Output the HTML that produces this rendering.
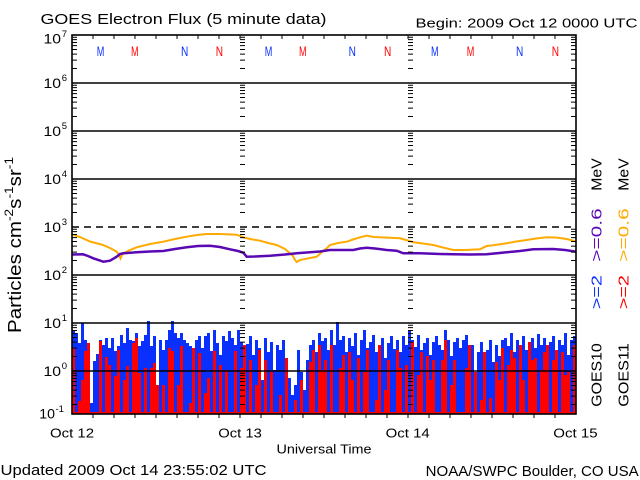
<!DOCTYPE html>
<html><head><meta charset="utf-8"><style>
html,body{margin:0;padding:0;background:#fff;width:640px;height:480px;overflow:hidden}
svg{display:block}
text{font-family:"Liberation Sans",sans-serif}
</style></head><body>
<svg width="640" height="480" viewBox="0 0 640 480" xmlns="http://www.w3.org/2000/svg">
<defs>
<path id="dec" d="M0,2.2h5M0,4.65h5M0,7.44h5M0,10.65h5M0,14.45h5M0,19.1h5M0,25.1h5M0,33.55h5" stroke="#000" stroke-width="1" fill="none"/>
<g id="col">
<use href="#dec" y="35"/><use href="#dec" y="83"/><use href="#dec" y="131"/><use href="#dec" y="179"/>
<use href="#dec" y="227"/><use href="#dec" y="275"/><use href="#dec" y="323"/><use href="#dec" y="371"/>
</g>
<clipPath id="pc"><rect x="72" y="35" width="504" height="379"/></clipPath>
</defs>
<rect width="640" height="480" fill="#fff"/>

<g clip-path="url(#pc)">
<path fill="#0a30ff" d="M72,414V330h3V333h3V343h3V323h3V340h3V414h3V403h3V361h3V354h3V340h3V345h3V338h3V348h3V338h3V351h3V346h3V335h3V343h3V328h3V340h3V341h3V333h3V346h3V341h3V335h3V321h3V346h3V336h3V385h3V340h3V350h3V340h3V330h3V321h3V333h3V338h3V333h3V340h3V343h3V346h3V378h3V340h3V336h3V348h3V336h3V333h3V351h3V330h3V343h3V355h3V336h3V341h3V331h3V338h3V345h3V330h3V342h3V350h3V344h3V336h3V355h3V340h3V348h3V380h3V338h3V352h3V342h3V370h3V345h3V350h3V340h3V360h3V378h3V395h3V385h3V350h3V372h3V390h3V360h3V345h3V340h3V352h3V333h3V341h3V338h3V350h3V330h3V345h3V322h3V340h3V336h3V352h3V338h3V346h3V333h3V355h3V340h3V330h3V348h3V342h3V335h3V352h3V345h3V338h3V358h3V343h3V336h3V349h3V340h3V352h3V336h3V345h3V330h3V340h3V347h3V335h3V350h3V343h3V338h3V355h3V342h3V336h3V345h3V350h3V330h3V340h3V356h3V342h3V338h3V348h3V340h3V335h3V360h3V345h3V400h3V352h3V342h3V398h3V350h3V340h3V362h3V345h3V356h3V340h3V338h3V346h3V333h3V352h3V340h3V345h3V336h3V350h3V342h3V338h3V348h3V334h3V345h3V338h3V350h3V342h3V336h3V352h3V340h3V345h3V333h3V355h3V340h3V336h3V414Z"/>
<path fill="#ff0000" d="M72,414V348h3V412h3V401h3V380h3V351h3V343h3V412h3V412h3V412h3V341h3V412h3V357h3
V365h3V412h3V376h3V350h3V412h3V380h3V366h3V412h3V343h3V338h3V373h3V412h3
V368h3V412h3V368h3V363h3V385h3V412h3V385h3V412h3V348h3V351h3V412h3V385h3
V346h3V412h3V412h3V403h3V348h3V412h3V353h3V412h3V393h3V378h3V412h3V351h3
V412h3V365h3V412h3V370h3V412h3V412h3V351h3V412h3V368h3V345h3V412h3V360h3
V412h3V385h3V350h3V412h3V360h3V412h3V372h3V412h3V412h3V395h3V412h3V358h3
V412h3V412h3V400h3V412h3V380h3V412h3V412h3V362h3V350h3V412h3V345h3V370h3
V360h3V412h3V345h3V412h3V412h3V368h3V355h3V412h3V352h3V380h3V412h3V358h3
V412h3V372h3V350h3V412h3V412h3V400h3V345h3V412h3V390h3V360h3V412h3V412h3
V350h3V368h3V412h3V365h3V412h3V342h3V412h3V375h3V352h3V412h3V356h3V380h3
V360h3V412h3V412h3V360h3V340h3V412h3V385h3V360h3V412h3V412h3V412h3V368h3
V345h3V412h3V372h3V412h3V400h3V352h3V412h3V398h3V412h3V362h3V380h3V348h3
V412h3V365h3V350h3V358h3V412h3V345h3V380h3V412h3V342h3V360h3V358h3V412h3
V370h3V352h3V345h3V412h3V360h3V350h3V412h3V352h3V375h3V372h3V412h3V345h3V414Z"/>

<polyline fill="none" stroke="#ffaa00" stroke-width="2" points="72,234.5 80,237 90,241.5 103,245 110,248 116.7,251.7 119,255 120.5,258.5 122,255 124,253 130,250 136.7,247.3 150,244 163.3,241.7 175,239 186.7,236.7 197,235 206.7,234 220,234 236.7,234.7 243.3,237.3 250,239 260,240.7 268,243 276.7,245 285,249 290,253.3 293,256 295,260 296.7,262 300,260 303.3,259.3 310,258 316.7,256.7 322,252 327,248 330,245 338,243 346.7,241.7 353,239.5 360,237.3 366.7,235.7 373.3,237 385,237.5 400,238.3 406,240 413.3,242.3 423,243.5 433.3,245 443,247.5 453.3,250 465,250 480,249.3 486.7,246 495,245 506.7,243.3 516,241.5 526.7,240 536,238.5 546.7,237.3 556,237.5 566.7,239 576,241.5"/>
<polyline fill="none" stroke="#5a08b4" stroke-width="2.5" points="72,254.5 83,254.3 88,256 93.3,258.3 100,260.5 103.3,261.7 110,260.7 116.7,256.7 120,254 123.3,253.3 136.7,252.3 150,251.5 163.3,251 175,249 186.7,247.3 198,246 210,245.7 220,247 230,249.3 238,251 243.3,252.7 246.7,256.7 255,256.5 270,255.7 285,254.5 296.7,253.3 310,252.3 320,251.5 330,250 345,250 353.3,250 360,248.5 366.7,247.7 375,248.5 386.7,250 396.7,250.7 403.3,253.3 420,253.3 440,254 453.3,254.3 470,254.5 486.7,254.3 506.7,252.3 520,251 533.3,249.3 553.3,249 565,250 576,251.7"/>
</g>

<!-- grid lines -->
<path d="M72,83H576M72,131H576M72,179H576M72,275H576M72,323H576M72,371H576" stroke="#000" stroke-width="1.6" fill="none"/>
<path d="M72,227H576" stroke="#000" stroke-width="1.6" stroke-dasharray="7 5" fill="none"/>

<!-- y ticks -->
<use href="#col" x="72"/>
<use href="#col" x="571"/>
<use href="#col" x="240"/>
<use href="#col" x="408"/>

<!-- x ticks -->
<path stroke="#000" stroke-width="1" fill="none" d="M93,35v4M114,35v4M135,35v4M156,35v4M177,35v4M198,35v4M219,35v4M240,35v4M261,35v4M282,35v4M303,35v4M324,35v4M345,35v4M366,35v4M387,35v4M408,35v4M429,35v4M450,35v4M471,35v4M492,35v4M513,35v4M534,35v4M555,35v4M93,414v4M114,414v4M135,414v4M156,414v4M177,414v4M198,414v4M219,414v4M240,414v4M261,414v4M282,414v4M303,414v4M324,414v4M345,414v4M366,414v4M387,414v4M408,414v4M429,414v4M450,414v4M471,414v4M492,414v4M513,414v4M534,414v4M555,414v4"/>

<rect x="72" y="35" width="504" height="379" fill="none" stroke="#000" stroke-width="1.6"/>

<!-- M / N markers -->
<g font-size="14">
<text x="96.7" y="56" style="fill:#0a30ff" textLength="7.6" lengthAdjust="spacingAndGlyphs">M</text>
<text x="131" y="56" style="fill:#ff0000" textLength="7.6" lengthAdjust="spacingAndGlyphs">M</text>
<text x="181" y="56" style="fill:#0a30ff" textLength="7.3" lengthAdjust="spacingAndGlyphs">N</text>
<text x="215.7" y="56" style="fill:#ff0000" textLength="7.3" lengthAdjust="spacingAndGlyphs">N</text>
<text x="264.7" y="56" style="fill:#0a30ff" textLength="7.6" lengthAdjust="spacingAndGlyphs">M</text>
<text x="299" y="56" style="fill:#ff0000" textLength="7.6" lengthAdjust="spacingAndGlyphs">M</text>
<text x="348.6" y="56" style="fill:#0a30ff" textLength="7.3" lengthAdjust="spacingAndGlyphs">N</text>
<text x="384" y="56" style="fill:#ff0000" textLength="7.3" lengthAdjust="spacingAndGlyphs">N</text>
<text x="431" y="56" style="fill:#0a30ff" textLength="7.6" lengthAdjust="spacingAndGlyphs">M</text>
<text x="466.8" y="56" style="fill:#ff0000" textLength="7.6" lengthAdjust="spacingAndGlyphs">M</text>
<text x="516" y="56" style="fill:#0a30ff" textLength="7.3" lengthAdjust="spacingAndGlyphs">N</text>
<text x="551.7" y="56" style="fill:#ff0000" textLength="7.3" lengthAdjust="spacingAndGlyphs">N</text>
</g>

<!-- titles -->
<text x="40.5" y="24" font-size="15" textLength="286" lengthAdjust="spacingAndGlyphs">GOES Electron Flux (5 minute data)</text>
<text x="415.5" y="27.3" font-size="12.5" textLength="222" lengthAdjust="spacingAndGlyphs">Begin: 2009 Oct 12 0000 UTC</text>
<text x="0.5" y="475" font-size="15" textLength="266" lengthAdjust="spacingAndGlyphs">Updated 2009 Oct 14 23:55:02 UTC</text>
<text x="425.7" y="476" font-size="15" textLength="213" lengthAdjust="spacingAndGlyphs">NOAA/SWPC Boulder, CO USA</text>

<!-- x labels -->
<g font-size="13">
<text x="50" y="437.7" textLength="44" lengthAdjust="spacingAndGlyphs">Oct 12</text>
<text x="218.3" y="437.7" textLength="43.5" lengthAdjust="spacingAndGlyphs">Oct 13</text>
<text x="385.7" y="437.7" textLength="44" lengthAdjust="spacingAndGlyphs">Oct 14</text>
<text x="553.3" y="437.7" textLength="44.3" lengthAdjust="spacingAndGlyphs">Oct 15</text>
</g>
<text x="276.5" y="453.3" font-size="12.5" textLength="95" lengthAdjust="spacingAndGlyphs">Universal Time</text>

<!-- y tick labels -->
<g font-size="14">
<text x="43.5" y="43.5" textLength="17.5" lengthAdjust="spacingAndGlyphs">10</text>
<text x="43.5" y="88" textLength="17.5" lengthAdjust="spacingAndGlyphs">10</text>
<text x="43.5" y="136" textLength="17.5" lengthAdjust="spacingAndGlyphs">10</text>
<text x="43.5" y="184" textLength="17.5" lengthAdjust="spacingAndGlyphs">10</text>
<text x="43.5" y="232" textLength="17.5" lengthAdjust="spacingAndGlyphs">10</text>
<text x="43.5" y="280" textLength="17.5" lengthAdjust="spacingAndGlyphs">10</text>
<text x="43.5" y="328" textLength="17.5" lengthAdjust="spacingAndGlyphs">10</text>
<text x="43.5" y="376" textLength="17.5" lengthAdjust="spacingAndGlyphs">10</text>
<text x="39.3" y="418.5" textLength="15.7" lengthAdjust="spacingAndGlyphs">10</text>
</g>
<g font-size="9.5">
<text x="61.7" y="37">7</text>
<text x="61.7" y="81">6</text>
<text x="61.7" y="129">5</text>
<text x="61.7" y="177">4</text>
<text x="61.7" y="225">3</text>
<text x="61.7" y="273">2</text>
<text x="61.7" y="321">1</text>
<text x="61.7" y="369">0</text>
<text x="55.5" y="412" textLength="8.5" lengthAdjust="spacingAndGlyphs">-1</text>
</g>

<!-- y axis title -->
<text transform="translate(21,333) rotate(-90)" font-size="18" textLength="176" lengthAdjust="spacingAndGlyphs">Particles cm<tspan dy="-8" font-size="12">-2</tspan><tspan dy="8">s</tspan><tspan dy="-8" font-size="12">-1</tspan><tspan dy="8">sr</tspan><tspan dy="-8" font-size="12">-1</tspan></text>

<!-- right legend -->
<g font-size="15">
<text transform="translate(601.5,406.7) rotate(-90)" textLength="63.4" lengthAdjust="spacingAndGlyphs">GOES10</text>
<text transform="translate(601.5,309.3) rotate(-90)" style="fill:#0a30ff" textLength="34.3" lengthAdjust="spacingAndGlyphs">&gt;=2</text>
<text transform="translate(601.5,261.7) rotate(-90)" style="fill:#5a08b4" textLength="53.4" lengthAdjust="spacingAndGlyphs">&gt;=0.6</text>
<text transform="translate(601.5,190.7) rotate(-90)" textLength="32.4" lengthAdjust="spacingAndGlyphs">MeV</text>
<text transform="translate(628.3,406.7) rotate(-90)" textLength="63.4" lengthAdjust="spacingAndGlyphs">GOES11</text>
<text transform="translate(628.3,309.3) rotate(-90)" style="fill:#ff0000" textLength="34.3" lengthAdjust="spacingAndGlyphs">&gt;=2</text>
<text transform="translate(628.3,261.7) rotate(-90)" style="fill:#ffaa00" textLength="53.4" lengthAdjust="spacingAndGlyphs">&gt;=0.6</text>
<text transform="translate(628.3,190.7) rotate(-90)" textLength="32.4" lengthAdjust="spacingAndGlyphs">MeV</text>
</g>
</svg>
</body></html>
